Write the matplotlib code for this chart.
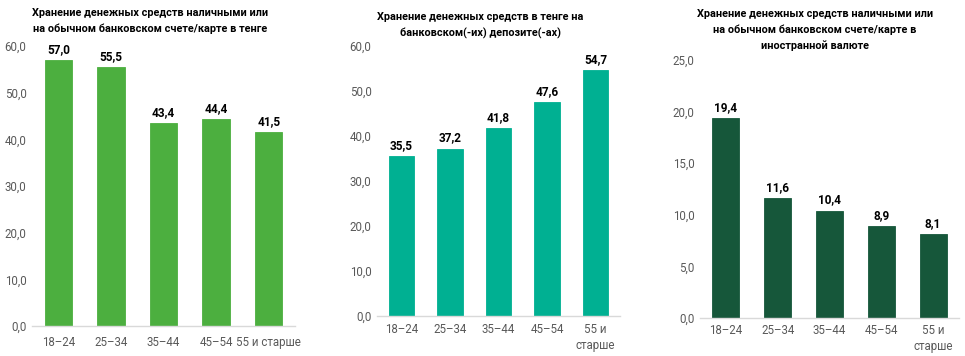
import matplotlib
matplotlib.use("Agg")
import matplotlib.pyplot as plt

plt.rcParams["font.family"] = ["Roboto", "DejaVu Sans"]

age_groups = ["18–24", "25–34", "35–44", "45–54", "55 и старше"]
age_groups_wrapped = ["18–24", "25–34", "35–44", "45–54", "55 и\nстарше"]

cash_tenge = [57.0, 55.5, 43.4, 44.4, 41.5]
deposit_tenge = [35.5, 37.2, 41.8, 47.6, 54.7]
cash_foreign = [19.4, 11.6, 10.4, 8.9, 8.1]

titles = [
    "Хранение денежных средств наличными или\nна обычном банковском счете/карте в тенге",
    "Хранение денежных средств в тенге на\nбанковском(-их) депозите(-ах)",
    "Хранение денежных средств наличными или\nна обычном банковском счете/карте в\nиностранной валюте",
]

colors = ["#4CAF3F", "#00B092", "#16573A"]


def fmt(v):
    return f"{v:.1f}".replace(".", ",")


def draw_panel(fig, rect, labels, values, color, ymax, step, title, title_xy, xpad=7):
    ax = fig.add_axes(rect)
    x = range(len(values))
    ax.bar(x, values, width=0.52, color=color, edgecolor=color, linewidth=0.6)
    ax.set_xlim(-0.5, len(values) - 0.5)
    ax.set_ylim(0, ymax)
    ticks = [i * step for i in range(int(round(ymax / step)) + 1)]
    ax.set_yticks(ticks)
    ax.set_yticklabels([fmt(t) for t in ticks])
    ax.set_xticks(list(x))
    ax.set_xticklabels(labels, linespacing=1.35)
    ax.tick_params(axis="both", length=0, labelsize=8.3, colors="#595959")
    ax.tick_params(axis="y", pad=4)
    ax.tick_params(axis="x", pad=xpad)
    for side in ["top", "right", "left"]:
        ax.spines[side].set_visible(False)
    ax.spines["bottom"].set_color("#D9D9D9")
    ax.spines["bottom"].set_linewidth(1.0)
    for i, v in enumerate(values):
        ax.annotate(fmt(v), (i, v), xytext=(0, 3), textcoords="offset points",
                    ha="center", va="bottom", fontsize=8.5, fontweight="bold", color="#000000")
    fig.text(title_xy[0], title_xy[1], title, ha="center", va="top", fontsize=7.8,
             fontweight="bold", color="#000000", linespacing=1.65)
    return ax


fig = plt.figure(figsize=(9.65, 3.56), dpi=100)

draw_panel(fig, [0.0332, 0.0843, 0.2725, 0.7865], age_groups, cash_tenge,
           colors[0], 60, 10, titles[0], (150 / 965, 1 - 8 / 356), xpad=7)
draw_panel(fig, [0.3907, 0.1124, 0.2518, 0.7584], age_groups_wrapped, deposit_tenge,
           colors[1], 60, 10, titles[1], (480 / 965, 1 - 12 / 356), xpad=5)
draw_panel(fig, [0.7254, 0.1067, 0.2684, 0.7247], age_groups_wrapped, cash_foreign,
           colors[2], 25, 5, titles[2], (815 / 965, 1 - 9 / 356), xpad=4)

fig.savefig("out.png", dpi=100)
